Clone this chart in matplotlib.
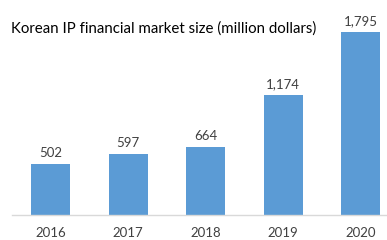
import matplotlib
matplotlib.use("Agg")
import matplotlib.pyplot as plt

years = ["2016", "2017", "2018", "2019", "2020"]
values = [502, 597, 664, 1174, 1795]
labels = ["502", "597", "664", "1,174", "1,795"]

plt.rcParams['font.family'] = ['Lato', 'DejaVu Sans']

fig = plt.figure(figsize=(3.87, 2.40), dpi=100)
ax = fig.add_axes([12/387, (240-214.7)/240, 1 - 12/387, 214.7/240])
x = list(range(len(years)))
bars = ax.bar(x, values, width=0.5, color="#5B9BD5")
ax.set_xlim(-0.5, 4.34)
ax.set_ylim(0, 2109)
for xi, v, lab in zip(x, values, labels):
    ax.text(xi, v + 50, lab, ha="center", va="bottom", fontsize=9.5, color="#404040")
ax.set_xticks(x)
ax.set_xticklabels(years, fontsize=9.5, color="#404040")
ax.tick_params(axis="x", length=0, pad=9)
ax.set_yticks([])
for s in ["top", "right", "left"]:
    ax.spines[s].set_visible(False)
ax.spines["bottom"].set_color("#D9D9D9")
ax.spines["bottom"].set_linewidth(1)
fig.text(11/387, 1 - 29/240, "Korean IP financial market size (million dollars)",
         ha="left", va="center", fontsize=10.8, color="#000000")
fig.savefig("out.png", dpi=100)
